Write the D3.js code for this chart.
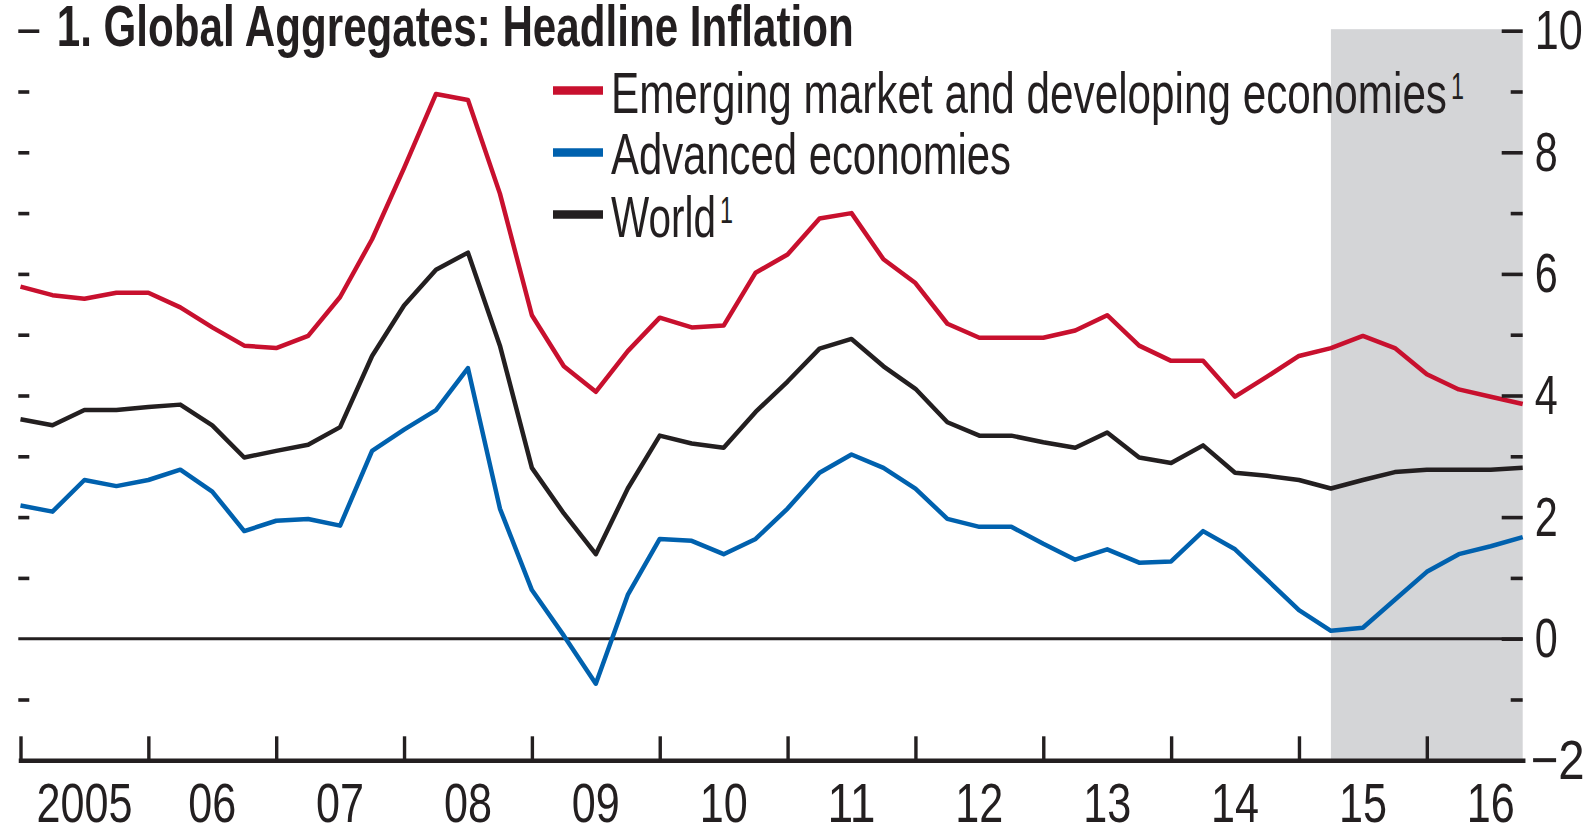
<!DOCTYPE html>
<html>
<head>
<meta charset="utf-8">
<title>Global Aggregates: Headline Inflation</title>
<script src="https://d3js.org/d3.v7.min.js"></script>
<style>
  body { margin: 0; background: #fff; }
  svg { display: block; }
  text { font-family: "Liberation Sans Narrow", "Liberation Sans", Arial, sans-serif; fill: #231f20; }
</style>
</head>
<body>
<div id="chart"></div>
<script>
// Data: quarterly, 2005Q1 - 2016Q4, percent change
const years = ["2005", "06", "07", "08", "09", "10", "11", "12", "13", "14", "15", "16"];
const periods = years.flatMap((y, i) => ["Q1", "Q2", "Q3", "Q4"].map(q => (2005 + i) + q));

const emerging = [
  5.79, 5.65, 5.59, 5.69, 5.69, 5.45, 5.12, 4.82,
  4.78, 4.98, 5.62, 6.57, 7.74, 8.96, 8.86, 7.32,
  5.32, 4.48, 4.06, 4.73, 5.28, 5.12, 5.15, 6.02,
  6.32, 6.91, 7.00, 6.24, 5.85, 5.18, 4.95, 4.95,
  4.95, 5.07, 5.32, 4.82, 4.57, 4.57, 3.98, 4.31,
  4.65, 4.78, 4.98, 4.78, 4.35, 4.10, 3.98, 3.86
];
const advanced = [
  2.19, 2.09, 2.61, 2.51, 2.61, 2.78, 2.42, 1.77,
  1.94, 1.97, 1.86, 3.09, 3.44, 3.76, 4.45, 2.14,
  0.80, 0.05, -0.74, 0.72, 1.64, 1.61, 1.39, 1.64,
  2.14, 2.73, 3.03, 2.81, 2.47, 1.97, 1.84, 1.84,
  1.56, 1.30, 1.47, 1.25, 1.27, 1.77, 1.47, 0.97,
  0.47, 0.13, 0.18, 0.64, 1.10, 1.39, 1.52, 1.67
];
const world = [
  3.61, 3.51, 3.76, 3.76, 3.81, 3.85, 3.51, 2.98,
  3.09, 3.19, 3.48, 4.65, 5.48, 6.07, 6.35, 4.82,
  2.81, 2.06, 1.39, 2.47, 3.34, 3.21, 3.14, 3.73,
  4.23, 4.77, 4.93, 4.48, 4.11, 3.56, 3.34, 3.34,
  3.23, 3.14, 3.39, 2.98, 2.89, 3.18, 2.73, 2.68,
  2.61, 2.47, 2.61, 2.74, 2.78, 2.78, 2.78, 2.81
];
const projectionStart = "2015Q2";

const seriesNames = ["Emerging market and developing economies", "Advanced economies", "World"];
const seriesSup = ["1", "", "1"];
const seriesColors = ["#c8102e", "#0061ae", "#231f20"];
const seriesData = [emerging, advanced, world];
const yTicks = [-2, -1, 0, 1, 2, 3, 4, 5, 6, 7, 8, 9, 10];

const W = 1596, H = 827;
const plotLeft = 20.5, plotRight = 1522.7, plotTop = 30.7, plotBottom = 760.3;

const svg = d3.select("#chart").append("svg")
  .attr("width", W)
  .attr("height", H);

const x = d3.scalePoint().domain(periods).range([plotLeft, plotRight]);
const y = d3.scaleLinear().domain([-2, 10]).range([plotBottom, plotTop]);

// narrow digits: squeeze labels to the chart's condensed widths
const labelWidth = s => s.length === 1 ? 23 : s.length === 2 ? (s[0] === "\u2212" ? 54 : 48) : 96;

// projection shading
svg.append("rect")
  .attr("x", x(projectionStart))
  .attr("y", y(10) - 1.5)
  .attr("width", plotRight - x(projectionStart))
  .attr("height", y(-2) - y(10) + 1.5)
  .attr("fill", "#d4d5d7");

// zero line
svg.append("line")
  .attr("x1", 18.3).attr("x2", plotRight)
  .attr("y1", y(0)).attr("y2", y(0))
  .attr("stroke", "#231f20")
  .attr("stroke-width", 3);

// lines
const line = d3.line()
  .x((d, i) => x(periods[i]))
  .y(d => y(d));

seriesData.forEach((s, i) => {
  svg.append("path")
    .datum(s)
    .attr("d", line)
    .attr("fill", "none")
    .attr("stroke", seriesColors[i])
    .attr("stroke-width", 4.5)
    .attr("stroke-linejoin", "round");
});

// x axis
const q1 = periods.filter(p => p.endsWith("Q1"));
const xAxis = svg.append("g")
  .attr("transform", "translate(0," + plotBottom + ")")
  .call(d3.axisBottom(x).tickValues(q1).tickSizeInner(-24).tickSizeOuter(0).tickFormat(""));
xAxis.select(".domain").attr("stroke", "#231f20").attr("stroke-width", 4.5).attr("stroke-linecap", "square");
xAxis.selectAll(".tick line").attr("stroke", "#231f20").attr("stroke-width", 3.4);

// year labels, centred within each year
svg.append("g").selectAll("text")
  .data(years)
  .join("text")
  .attr("x", (d, i) => x((2005 + i) + "Q3"))
  .attr("y", 822)
  .attr("text-anchor", "middle")
  .attr("font-size", 56)
  .attr("textLength", d => labelWidth(d))
  .attr("lengthAdjust", "spacingAndGlyphs")
  .text(d => d);

// right axis: majors labelled, minors plain
const rightMajor = svg.append("g")
  .attr("transform", "translate(" + plotRight + ",0)")
  .call(d3.axisRight(y).tickValues(yTicks.filter(v => v % 2 === 0)).tickSize(-21).tickPadding(12));
rightMajor.select(".domain").remove();
rightMajor.selectAll(".tick line").attr("stroke", "#231f20").attr("stroke-width", 3.6);
rightMajor.attr("font-family", null).attr("font-size", null);
rightMajor.selectAll(".tick text")
  .attr("font-size", 56)
  .attr("fill", "#231f20")
  .attr("x", d => d < 0 ? 8 : 12)
  .attr("textLength", function() { return labelWidth(this.textContent); })
  .attr("lengthAdjust", "spacingAndGlyphs");

const rightMinor = svg.append("g")
  .attr("transform", "translate(" + plotRight + ",0)")
  .call(d3.axisRight(y).tickValues(yTicks.filter(v => v % 2 !== 0)).tickSize(-12).tickFormat(""));
rightMinor.select(".domain").remove();
rightMinor.selectAll(".tick line").attr("stroke", "#231f20").attr("stroke-width", 3.6);

// left axis: short ticks
const leftTicks = svg.append("g")
  .attr("transform", "translate(18.3,0)")
  .call(d3.axisRight(y).tickValues(yTicks.filter(v => v > -2 && v < 10 && v !== 0)).tickSize(11).tickFormat(""));
leftTicks.select(".domain").remove();
leftTicks.selectAll(".tick line").attr("stroke", "#231f20").attr("stroke-width", 3.6);

const leftTop = svg.append("g")
  .attr("transform", "translate(18.3,0)")
  .call(d3.axisRight(y).tickValues([10]).tickSize(21).tickFormat(""));
leftTop.select(".domain").remove();
leftTop.selectAll(".tick line").attr("stroke", "#231f20").attr("stroke-width", 3.6);

// title
svg.append("text")
  .attr("x", 56.7)
  .attr("y", 45.7)
  .attr("font-size", 57)
  .attr("font-weight", "bold")
  .attr("textLength", 797)
  .attr("lengthAdjust", "spacingAndGlyphs")
  .text("1. Global Aggregates: Headline Inflation");

// legend
const legendY = [90.5, 152.5, 214.5];
const legendBase = [112.7, 174.2, 236.7];
const legendLen = [836, 400, 105];

seriesNames.forEach((name, i) => {
  svg.append("line")
    .attr("x1", 553).attr("x2", 603)
    .attr("y1", legendY[i]).attr("y2", legendY[i])
    .attr("stroke", seriesColors[i])
    .attr("stroke-width", 8.5);
  svg.append("text")
    .attr("x", 611)
    .attr("y", legendBase[i])
    .attr("font-size", 57)
    .attr("textLength", legendLen[i])
    .attr("lengthAdjust", "spacingAndGlyphs")
    .text(name);
  if (seriesSup[i]) {
    svg.append("text")
      .attr("x", 611 + legendLen[i] + 4)
      .attr("y", legendBase[i] - 14)
      .attr("font-size", 36)
      .attr("textLength", 13)
      .attr("lengthAdjust", "spacingAndGlyphs")
      .text(seriesSup[i]);
  }
});
</script>
</body>
</html>
